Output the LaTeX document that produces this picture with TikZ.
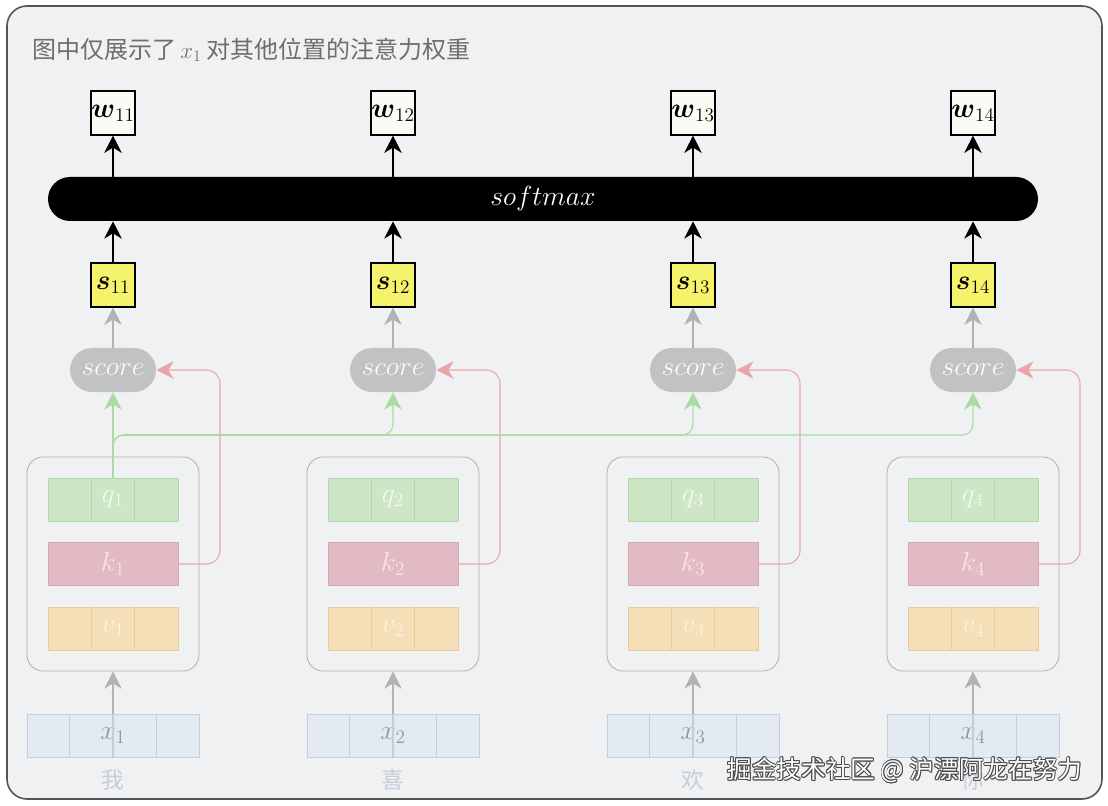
\documentclass[tikz,border=0pt]{standalone}
\usepackage{amsmath}
\usepackage{fontspec}
\newfontfamily\cjk{Noto Sans CJK SC}
\usetikzlibrary{arrows.meta,calc}
\definecolor{bg}{HTML}{EFF1F3}
\definecolor{framec}{HTML}{555555}
\definecolor{titlec}{HTML}{6E6E6E}
\definecolor{wfill}{HTML}{FBFAF4}
\definecolor{sfill}{HTML}{F5F36C}
\definecolor{scfill}{HTML}{C1C2C4}
\definecolor{grayl}{HTML}{B0B2B4}
\definecolor{greenl}{HTML}{A9DBA2}
\definecolor{redl}{HTML}{EBA5AA}
\definecolor{qfill}{HTML}{CDE6C6}
\definecolor{qdraw}{HTML}{B4D6AC}
\definecolor{kfill}{HTML}{E2BAC4}
\definecolor{kdraw}{HTML}{D6A9B5}
\definecolor{vfill}{HTML}{F5DFB6}
\definecolor{vdraw}{HTML}{E8CC9C}
\definecolor{xfill}{HTML}{E3EAF2}
\definecolor{xdraw}{HTML}{C5CDD7}
\definecolor{wordc}{HTML}{C6CED9}
\definecolor{boxd}{HTML}{B0B0B0}
\tikzset{
  big/.style={font=\huge},
  arrowtip/.style={-{Stealth[length=13pt,width=13pt,inset=4pt]}},
  wbox/.style={draw=black, line width=0.8pt, fill=wfill, minimum width=33pt, minimum height=33pt, inner sep=0pt, big},
  sbox/.style={wbox, fill=sfill},
  scorebox/.style={fill=scfill, rounded corners=16.5pt, minimum width=64.5pt, minimum height=33pt, inner sep=0pt, text=white!94!scfill, big},
  smbar/.style={fill=black, rounded corners=16.5pt, minimum width=742.5pt, minimum height=33pt, inner sep=0pt, text=white, big},
  innerbox/.style={draw=boxd, line width=0.6pt, rounded corners=12pt, minimum width=129pt, minimum height=160.5pt, inner sep=0pt},
  qbar/.style={fill=qfill, draw=qdraw, line width=0.5pt, minimum width=97.5pt, minimum height=32.25pt, inner sep=0pt, text=white!75!qfill, big},
  kbar/.style={qbar, fill=kfill, draw=kdraw, text=white!65!kfill},
  vbar/.style={qbar, fill=vfill, draw=vdraw, text=white!60!vfill},
  xbar/.style={fill=xfill, draw=xdraw, line width=0.6pt, minimum width=129pt, minimum height=32.25pt, inner sep=0pt, text=black!35!xfill, big},
  word/.style={text=wordc, font=\cjk\fontsize{17}{20}\selectfont},
  blk/.style={draw=black, line width=1.5pt, arrowtip},
  garr/.style={draw=grayl, line width=1pt, arrowtip},
  grn/.style={draw=greenl, line width=0.8pt, rounded corners=8pt},
  rd/.style={draw=redl, line width=0.8pt, rounded corners=10pt, arrowtip},
  wm/.style={font=\cjk\fontsize{18.5}{22}\selectfont},
}
\begin{document}
\begin{tikzpicture}[x=0.75pt, y=-0.75pt]
\useasboundingbox (0,0) rectangle (1108,806);
\fill[white] (0,0) rectangle (1108,806);
\draw[framec, line width=1.2pt, fill=bg, rounded corners=15pt] (7,6) rectangle (1102,799);
\node[anchor=west, text=titlec, font=\cjk\fontsize{18}{22}\selectfont, inner sep=0pt] (title) at (32,50) {图中仅展示了\,$x_1$ 对其他位置的注意力权重};
\node[smbar] (sm) at (543,199) {$softmax$};
\coordinate (bus) at (113,435);
\foreach \i/\cx/\wrd in {1/113/我,2/393/喜,3/693/欢,4/973/你}{
  \node[wbox] (w\i) at (\cx,113) {$\boldsymbol{w}_{1\i}$};
  \node[sbox] (s\i) at (\cx,285) {$\boldsymbol{s}_{1\i}$};
  \node[scorebox] (sc\i) at (\cx,370) {$score$};
  \node[innerbox] (ib\i) at (\cx,564) {};
  \node[qbar] (q\i) at (\cx,499.5) {$q_{\i}$};
  \node[kbar] (k\i) at (\cx,564) {$k_{\i}$};
  \node[vbar] (v\i) at (\cx,628.5) {$v_{\i}$};
  \foreach \n in {q,v}{
    \draw[\n draw, line width=0.5pt] ($(\n\i.north west)!1/3!(\n\i.north east)$) -- ($(\n\i.south west)!1/3!(\n\i.south east)$);
    \draw[\n draw, line width=0.5pt] ($(\n\i.north west)!2/3!(\n\i.north east)$) -- ($(\n\i.south west)!2/3!(\n\i.south east)$);
  }
  \node[xbar] (x\i) at (\cx,735.5) {$x_{\i}$};
  \draw[xdraw, line width=0.6pt] ($(x\i.north west)!1/4!(x\i.north east)$) -- ($(x\i.south west)!1/4!(x\i.south east)$);
  \draw[xdraw, line width=0.6pt] ($(x\i.north west)!3/4!(x\i.north east)$) -- ($(x\i.south west)!3/4!(x\i.south east)$);
  \node[word] (t\i) at (\cx,780) {\wrd};
  \draw[blk] (s\i.north) -- (s\i.north |- sm.south);
  \draw[blk] (w\i.south |- sm.north) -- (w\i.south);
  \draw[garr] (sc\i.north) -- (s\i.south);
  \draw[xdraw, line width=0.8pt] (x\i.south) -- (x\i.north);
  \draw[garr] (x\i.north) -- (ib\i.south);
  \coordinate (r\i) at (\cx+107,370);
  \draw[rd] (k\i.east) -| (r\i) -- (sc\i.east);
}
\draw[grn, arrowtip] (q1.north) -- (sc1.south);
\foreach \i in {2,3,4}{
  \draw[grn, arrowtip] (q1.north) -- (bus) -- (sc\i.south |- bus) -- (sc\i.south);
}
\foreach \dx/\dy in {-0.9/0,0.9/0,0/-0.9,0/0.9,-0.7/-0.7,0.7/0.7,-0.7/0.7,0.7/-0.7}{
  \node[wm, text=black!70] at ($(905,770)+(\dx,\dy)$) {掘金技术社区 @ 沪漂阿龙在努力};
}
\node[wm, text=white] (wmark) at (905,770) {掘金技术社区 @ 沪漂阿龙在努力};
\end{tikzpicture}
\end{document}
